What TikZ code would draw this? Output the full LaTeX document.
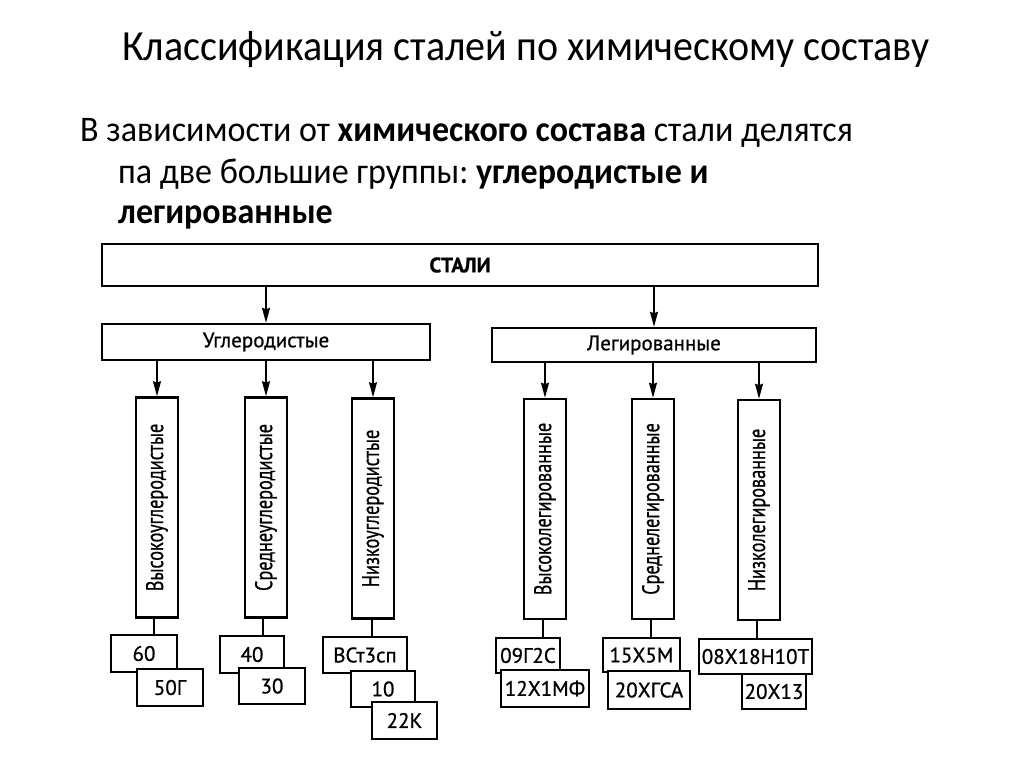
\documentclass[tikz,border=0pt]{standalone}
\usepackage{fontspec}
\usepackage{graphicx}
\setmainfont{Carlito}
\newfontfamily\diag[FakeBold=0.8]{PT Sans}
\usetikzlibrary{arrows.meta}
\newcommand\hsq[2]{\scalebox{#1}[1]{#2}}
\frenchspacing
\begin{document}
\begin{tikzpicture}[x=1pt,y=-1pt,
  mainbox/.style={draw, line width=2.4pt, fill=white, inner sep=0pt, font=\diag\fontsize{21}{24}\selectfont},
  vbox/.style={draw, line width=2.6pt, fill=white, inner sep=0pt, minimum width=42pt, minimum height=220pt},
  vlabel/.style={rotate=90, inner sep=0pt, font=\diag\fontsize{24}{28}\selectfont},
  smallbox/.style={draw, line width=1.4pt, fill=white, inner sep=0pt, font=\diag\fontsize{21}{24}\selectfont},
  arr/.style={line width=1.5pt, -{Stealth[length=15pt,width=8pt,inset=1.5pt]}},
  conn/.style={line width=1.6pt},
  titlet/.style={inner sep=0pt, anchor=base, font=\fontsize{43}{50}\selectfont},
  bodyt/.style={inner sep=0pt, anchor=base west, font=\fontsize{36}{42}\selectfont}
]
\useasboundingbox[fill=white] (0,0) rectangle (1024,767);

% title and text
\node[titlet] (title) at (526,61) {\hsq{0.93}{Классификация сталей по химическому составу}};
\node[bodyt] (l1) at (80,142) {\hsq{0.945}{В зависимости от \textbf{химического состава} стали делятся}};
\node[bodyt] (l2) at (118,184) {\hsq{0.945}{па две большие группы: \textbf{углеродистые и}}};
\node[bodyt] (l3) at (118,224) {\hsq{0.945}{\textbf{легированные}}};

% top boxes
\node[mainbox, minimum width=716pt, minimum height=42pt] (stali) at (460,265) {\textbf{СТАЛИ}};
\node[mainbox, minimum width=328pt, minimum height=36pt] (ugl) at (266,342) {Углеродистые};
\node[mainbox, minimum width=324pt, minimum height=34pt] (leg) at (654,345) {Легированные};

% vertical boxes
\node[vbox] (v1) at (157,507.5) {};
\node[vbox] (v2) at (266,507.5) {};
\node[vbox] (v3) at (373,508.5) {};
\node[vbox] (v4) at (545,509) {};
\node[vbox] (v5) at (653,509) {};
\node[vbox] (v6) at (759,510) {};
\node[vlabel] (t1) at (v1) {\hsq{0.76}{Высокоуглеродистые}};
\node[vlabel] (t2) at (v2) {\hsq{0.76}{Среднеуглеродистые}};
\node[vlabel] (t3) at (v3) {\hsq{0.76}{Низкоуглеродистые}};
\node[vlabel] (t4) at (v4) {\hsq{0.76}{Высоколегированные}};
\node[vlabel] (t5) at (v5) {\hsq{0.76}{Среднелегированные}};
\node[vlabel] (t6) at (v6) {\hsq{0.76}{Низколегированные}};

% arrows
\draw[arr] (stali.south -| ugl.north) -- (ugl.north);
\draw[arr] (stali.south -| leg.north) -- (leg.north);
\foreach \v in {v1,v2,v3}{\draw[arr] (ugl.south -| \v.north) -- (\v.north);}
\foreach \v in {v4,v5,v6}{\draw[arr] (leg.south -| \v.north) -- (\v.north);}

% small boxes
\node[smallbox, minimum width=66pt, minimum height=37pt] (s60) at (144,653.5) {60};
\node[smallbox, minimum width=66pt, minimum height=37pt] (s50) at (170,687.5) {50Г};
\node[smallbox, minimum width=64pt, minimum height=37pt] (s40) at (252,654.5) {40};
\node[smallbox, minimum width=66pt, minimum height=36pt] (s30) at (272,686) {30};
\node[smallbox, minimum width=84pt, minimum height=36pt] (svst) at (365,655) {ВСт3сп};
\node[smallbox, minimum width=64pt, minimum height=36pt] (s10) at (383,689) {10};
\node[smallbox, minimum width=65pt, minimum height=37pt] (s22) at (404.5,720.5) {22К};
\node[smallbox, minimum width=64pt, minimum height=35pt] (s09) at (528,655.5) {09Г2С};
\node[smallbox, minimum width=88pt, minimum height=37pt] (s12) at (545,688.5) {12Х1МФ};
\node[smallbox, minimum width=77pt, minimum height=34pt] (s15) at (641.5,655) {15Х5М};
\node[smallbox, minimum width=82pt, minimum height=38pt] (s20) at (649,690) {20ХГСА};
\node[smallbox, minimum width=113pt, minimum height=35pt] (s08) at (755.5,656.5) {08Х18Н10Т};
\node[smallbox, minimum width=64pt, minimum height=35pt] (s2013) at (774,691.5) {20Х13};

% connectors
\draw[conn] ([xshift=-3pt]v1.south) -- ([xshift=-3pt]v1.south |- s60.north);
\draw[conn] ([xshift=-3pt]v2.south) -- ([xshift=-3pt]v2.south |- s40.north);
\draw[conn] ([xshift=-1pt]v3.south) -- ([xshift=-1pt]v3.south |- svst.north);
\draw[conn] ([xshift=-2pt]v4.south) -- ([xshift=-2pt]v4.south |- s09.north);
\draw[conn] ([xshift=-2pt]v5.south) -- ([xshift=-2pt]v5.south |- s15.north);
\draw[conn] ([xshift=-2pt]v6.south) -- ([xshift=-2pt]v6.south |- s08.north);
\end{tikzpicture}
\end{document}
